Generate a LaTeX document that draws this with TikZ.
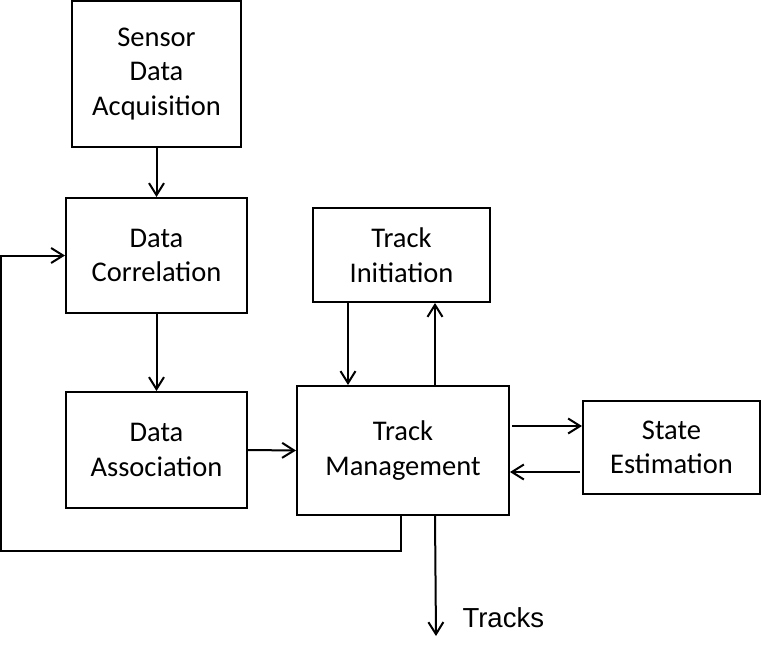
\documentclass[tikz,border=0pt]{standalone}
\usepackage{fontspec}
\setmainfont{Carlito}
\newfontfamily\tracksfont{Liberation Sans}
\usetikzlibrary{arrows.meta}

\tikzset{
  blk/.style={draw, line width=2pt, align=center, inner sep=0pt,
    font=\fontsize{28.5}{34.5}\selectfont},
  arr/.style={line width=2pt, -{Straight Barb[length=12pt,width=15pt,line width=2pt]}}
}

\begin{document}
\begin{tikzpicture}[x=1pt,y=-1pt]
    \useasboundingbox (0,0) rectangle (761,653);
    \node[blk, minimum width=169, minimum height=146] (sda) at (156.5,74) {Sensor\\Data\\Acquisition};
    \node[blk, minimum width=181, minimum height=115] (dc) at (156.5,255.5) {Data\\Correlation};
    \node[blk, minimum width=181, minimum height=116] (da) at (156.5,450) {Data\\Association};
    \node[blk, minimum width=177, minimum height=94] (ti) at (401.5,255) {Track\\Initiation};
    \node[blk, minimum width=212, minimum height=129] (tm) at (403,450.5) {Track\\Management};
    \node[blk, minimum width=177, minimum height=93] (se) at (671.5,447.5) {State\\Estimation};
    \coordinate (loop) at (1,551);
    \coordinate (out) at (436,636);
    \node[font=\tracksfont\fontsize{27.5}{30}\selectfont, anchor=west] (trk) at (459,618) {Tracks};

    \draw[arr] (sda.south) -- (dc.north);
    \draw[arr] (dc.south) -- (da.north);
    \draw[arr] (da.east) -- (tm.west);
    \draw[arr] ([xshift=36]ti.south west) -- ([xshift=52]tm.north west);
    \draw[arr] ([xshift=139]tm.north west) -- ([xshift=123]ti.south west);
    \draw[arr] ([xshift=2,yshift=24.5]tm.east) -- ([yshift=21.5]se.west);
    \draw[arr] ([xshift=-2,yshift=-24.5]se.west) -- ([yshift=-21.5]tm.east);
    \draw[arr] ([xshift=139]tm.south west) -- (out);
    \draw[arr] ([xshift=105]tm.south west) |- (loop) |- (dc.west);
\end{tikzpicture}
\end{document}
